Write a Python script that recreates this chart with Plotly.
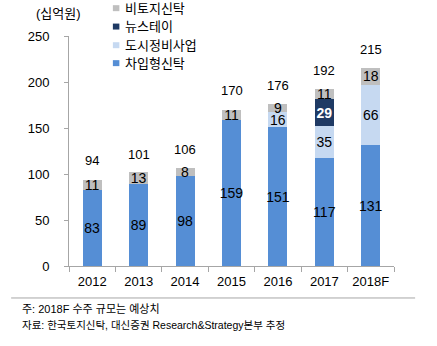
import plotly.graph_objects as go

years = ["2012", "2013", "2014", "2015", "2016", "2017", "2018F"]
loan_trust = [83, 89, 98, 159, 151, 117, 131]        # 차입형신탁
urban_renewal = [0, 0, 0, 0, 16, 35, 66]             # 도시정비사업
new_stay = [0, 0, 0, 0, 0, 29, 0]                    # 뉴스테이
non_land = [11, 13, 8, 11, 9, 11, 18]                # 비토지신탁
totals = [94, 101, 106, 170, 176, 192, 215]

FONT = "Liberation Sans, Arial, Noto Sans CJK KR, sans-serif"

def labels(vals):
    return [str(v) if v else "" for v in vals]

series = [
    ("차입형신탁", loan_trust, "#558ED5", "black"),
    ("도시정비사업", urban_renewal, "#C6D9F1", "black"),
    ("뉴스테이", new_stay, "#1F3A64", "white"),
    ("비토지신탁", non_land, "#BFBFBF", "black"),
]

fig = go.Figure()
for name, vals, color, tcol in series:
    fig.add_trace(go.Bar(
        x=years, y=vals, name=name, marker=dict(color=color, line=dict(width=0)),
        text=labels(vals), textposition="inside", insidetextanchor="middle",
        textangle=0, constraintext="none",
        textfont=dict(color=tcol, size=14, family=FONT,
                      weight="bold" if tcol == "white" else "normal"),
        cliponaxis=False, showlegend=False,
    ))

for i, t in enumerate(totals):
    fig.add_annotation(x=i, y=t, text=str(t), showarrow=False, yshift=19,
                       font=dict(size=13, color="black", family=FONT))

# custom legend (top to bottom: reverse of stack order)
leg_rows = [1.121, 1.041, 0.960, 0.882]
for (name, _, color, _), yy in zip(reversed(series), leg_rows):
    fig.add_shape(type="rect", xref="paper", yref="paper",
                  x0=0.135, x1=0.155, y0=yy - 0.013, y1=yy + 0.013,
                  fillcolor=color, line=dict(width=0))
    fig.add_annotation(xref="paper", yref="paper", x=0.167, y=yy, text=name,
                       showarrow=False, xanchor="left", yanchor="middle",
                       font=dict(size=13, color="black", family=FONT))

fig.add_annotation(xref="paper", yref="paper", x=-0.032, y=1.096, text="(십억원)",
                   showarrow=False, xanchor="center", yanchor="middle",
                   font=dict(size=13, color="black", family=FONT))

fig.add_shape(type="line", xref="paper", yref="paper", x0=-0.178, x1=1.065,
              y0=-0.139, y1=-0.139, line=dict(color="#A6A6A6", width=1))
fig.add_annotation(xref="paper", yref="paper", x=-0.152, y=-0.188,
                   text="주: 2018F 수주 규모는 예상치", showarrow=False,
                   xanchor="left", yanchor="middle",
                   font=dict(size=11, color="black", family=FONT))
fig.add_annotation(xref="paper", yref="paper", x=-0.152, y=-0.258,
                   text="자료: 한국토지신탁, 대신증권 Research&Strategy본부 추정", showarrow=False,
                   xanchor="left", yanchor="middle",
                   font=dict(size=10.5, color="black", family=FONT))

fig.update_layout(
    width=437, height=346, barmode="stack", bargap=0.59,
    margin=dict(l=69, r=43, t=36, b=80, autoexpand=False),
    plot_bgcolor="white", paper_bgcolor="white",
    font=dict(family=FONT, size=13, color="black"),
    showlegend=False,
)
fig.update_yaxes(range=[0, 250], tickvals=[0, 50, 100, 150, 200, 250],
                 showgrid=False, showline=True, linecolor="#A6A6A6", linewidth=1,
                 ticks="outside", ticklen=4, tickcolor="#A6A6A6",
                 tickfont=dict(size=13, family=FONT), ticklabelstandoff=12, zeroline=False)
fig.update_xaxes(type="category", range=[-0.5, len(years) - 0.5],
                 showgrid=False, showline=True, linecolor="#A6A6A6", linewidth=1,
                 ticks="outside", ticklen=5, tickcolor="#A6A6A6", tickson="boundaries",
                 tickfont=dict(size=13, family=FONT), ticklabelstandoff=3)

fig.write_html("out.html")
